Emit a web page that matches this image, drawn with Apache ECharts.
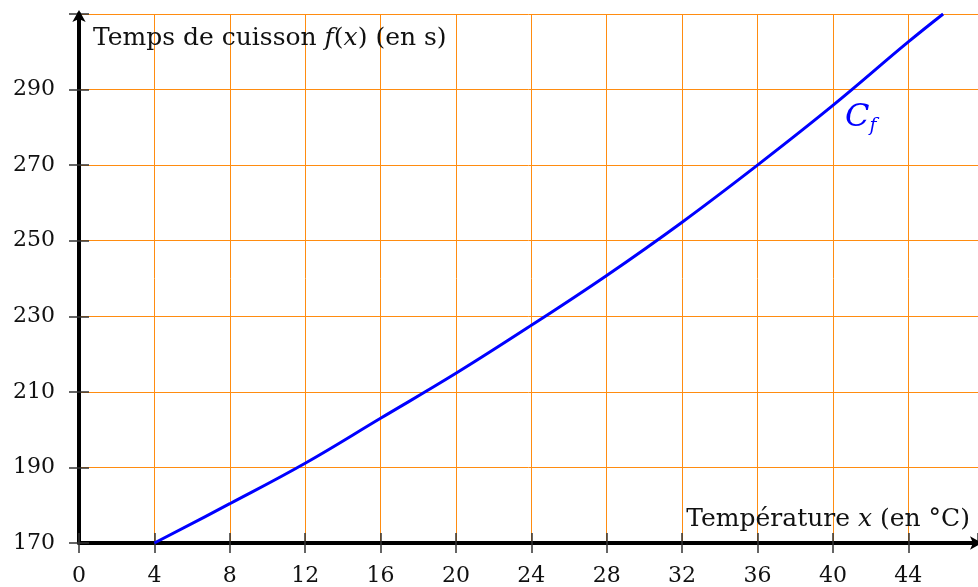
<!DOCTYPE html>
<html>
<head>
<meta charset="utf-8">
<script src="https://cdn.jsdelivr.net/npm/echarts@6/dist/echarts.min.js"></script>
<style>
  html, body { margin: 0; padding: 0; background: #fff; }
  #main { width: 978px; height: 587px; }
</style>
</head>
<body>
<div id="main"></div>
<script>
var temperature = [4, 8, 12, 16, 20, 24, 28, 32, 36, 40, 44, 45.85];
var cuisson = [170, 180.4, 191.1, 203, 214.9, 227.6, 240.8, 254.9, 270, 285.8, 302.6, 310];
var xTicks = [0, 4, 8, 12, 16, 20, 24, 28, 32, 36, 40, 44];
var yTicks = [170, 190, 210, 230, 250, 270, 290];

var myChart = echarts.init(document.getElementById('main'));
var serif = '"DejaVu Serif", "Liberation Serif", serif';
var gridColor = '#ff8c10';

var points = temperature.map(function (x, i) { return [x, cuisson[i]]; });

function xLabel(v) { return xTicks.indexOf(v) >= 0 ? String(v) : ''; }
function yLabel(v) { return yTicks.indexOf(v) >= 0 ? String(v) : ''; }

var txt = { fontFamily: serif, fontSize: 25, fontWeight: 'normal', color: '#111' };
var itl = { fontFamily: serif, fontSize: 25, fontWeight: 'normal', fontStyle: 'italic', color: '#111' };

var option = {
    animation: false,
    title: [
        {
            text: '{a|Temps de cuisson }{i|f}{a|(}{i|x}{a|) (en s)}',
            left: 88, top: 21,
            textStyle: { fontWeight: 'normal', rich: { a: txt, i: itl } }
        },
        {
            text: '{a|Température }{i|x}{a| (en °C)}',
            right: 3, top: 502,
            textStyle: { fontWeight: 'normal', rich: { a: txt, i: itl } }
        },
        {
            text: '{c|C}{f|f}',
            left: 840, top: 94,
            textStyle: { fontWeight: 'normal', rich: {
                c: { fontFamily: serif, fontSize: 32, fontWeight: 'normal', fontStyle: 'italic', color: '#0000ff' },
                f: { fontFamily: serif, fontSize: 19, fontWeight: 'normal', fontStyle: 'italic', color: '#0000ff', padding: [18, 0, 0, 0] }
            } }
        }
    ],
    grid: { left: 79, right: 0, top: 14, bottom: 44, containLabel: false },
    xAxis: [
        {
            type: 'value', min: 0, max: 47.7, interval: 4,
            axisLine: { show: true, onZero: false, lineStyle: { color: '#000', width: 4 },
                symbol: ['none', 'arrow'], symbolSize: [10, 12], symbolOffset: [0, 4] },
            axisTick: { show: true, inside: false, length: 10, lineStyle: { color: '#333', width: 1.5 } },
            axisLabel: { formatter: xLabel, fontFamily: serif, fontSize: 22, color: '#111', margin: 22, showMaxLabel: false },
            splitLine: { show: true, lineStyle: { color: gridColor, width: 1 } }
        },
        {
            type: 'value', min: 0, max: 47.7, interval: 4, position: 'bottom',
            axisLine: { show: false },
            axisTick: { show: true, inside: true, length: 10, lineStyle: { color: '#333', width: 1.5 } },
            axisLabel: { show: false },
            splitLine: { show: false }
        }
    ],
    yAxis: [
        {
            type: 'value', min: 170, max: 310, interval: 20,
            axisLine: { show: true, onZero: false, lineStyle: { color: '#000', width: 4 },
                symbol: ['none', 'arrow'], symbolSize: [10, 12], symbolOffset: [0, 4] },
            axisTick: { show: true, inside: false, length: 10, lineStyle: { color: '#333', width: 1.5 } },
            axisLabel: { formatter: yLabel, fontFamily: serif, fontSize: 22, color: '#111', margin: 24 },
            splitLine: { show: true, lineStyle: { color: gridColor, width: 1 } }
        },
        {
            type: 'value', min: 170, max: 310, interval: 20, position: 'left',
            axisLine: { show: false },
            axisTick: { show: true, inside: true, length: 10, lineStyle: { color: '#333', width: 1.5 } },
            axisLabel: { show: false },
            splitLine: { show: false }
        }
    ],
    series: [
        {
            name: 'Cf',
            type: 'line',
            data: points,
            smooth: 0.4,
            showSymbol: false,
            clip: true,
            lineStyle: { color: '#0000ff', width: 3 },
            z: 5
        }
    ]
};

myChart.setOption(option);
</script>
</body>
</html>
